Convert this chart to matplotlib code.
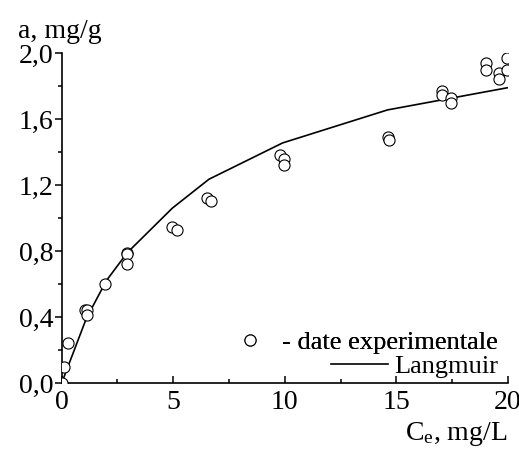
import matplotlib
matplotlib.use('Agg')
import matplotlib.pyplot as plt
from matplotlib.lines import Line2D
from matplotlib.ticker import MultipleLocator, FixedLocator, FixedFormatter

plt.rcParams['font.family'] = ['Liberation Serif', 'DejaVu Serif']
plt.rcParams['mathtext.fontset'] = 'custom'
plt.rcParams['mathtext.rm'] = 'Liberation Serif'
plt.rcParams['mathtext.it'] = 'Liberation Serif'

# experimental adsorption points
ce_exp = [0.0, 0.1, 0.3, 1.05, 1.15, 1.12, 1.95, 2.94, 2.94, 2.94, 4.96, 5.15,
          6.5, 6.67, 9.8, 9.95, 9.95, 14.62, 14.66, 17.05, 17.05, 17.43, 17.43,
          19.0, 19.0, 19.6, 19.6, 19.95, 19.95]
a_exp = [0.0, 0.10, 0.245, 0.44, 0.44, 0.41, 0.60, 0.79, 0.78, 0.72, 0.944, 0.925,
         1.12, 1.105, 1.38, 1.355, 1.32, 1.49, 1.47, 1.77, 1.745, 1.73, 1.70,
         1.94, 1.90, 1.88, 1.84, 1.967, 1.90]

# Langmuir model curve
ce_fit = [0.0, 1.1, 2.0, 2.94, 4.96, 6.6, 9.9, 14.6, 17.2, 20.0]
a_fit = [0.0, 0.39, 0.62, 0.79, 1.06, 1.235, 1.455, 1.655, 1.72, 1.79]

xticks = [0, 5, 10, 15, 20]
yticks = [0.0, 0.4, 0.8, 1.2, 1.6, 2.0]
ylabels = ['0,0', '0,4', '0,8', '1,2', '1,6', '2,0']

FS = 20
LFS = 19
W, H = 519, 451
fig = plt.figure(figsize=(W / 100, H / 100), dpi=100)
ax = fig.add_axes([61.7 / W, 68 / H, (508 - 61.7) / W, 330 / H])

ax.plot(ce_fit, a_fit, color='black', lw=1.2, zorder=2)
ax.plot(ce_exp, a_exp, 'o', ms=8, mfc='white', mec='black', mew=0.8, zorder=3)

ax.set_xlim(0, 20)
ax.set_ylim(0, 2.0)
for s in ['top', 'right']:
    ax.spines[s].set_visible(False)
for s in ['left', 'bottom']:
    ax.spines[s].set_linewidth(1.2)

ax.xaxis.set_major_locator(FixedLocator(xticks))
ax.xaxis.set_minor_locator(MultipleLocator(2.5))
ax.yaxis.set_major_locator(FixedLocator(yticks))
ax.yaxis.set_major_formatter(FixedFormatter(ylabels))
ax.yaxis.set_minor_locator(MultipleLocator(0.2))
ax.tick_params(axis='x', which='both', direction='in', labelsize=FS, pad=5)
ax.tick_params(axis='y', which='both', direction='out', labelsize=FS, pad=1)
ax.tick_params(which='major', length=5, width=1.1)
ax.tick_params(which='minor', length=3, width=1.1)

fig.text(18 / W, 1 - 38 / H, 'a, mg/g', fontsize=FS, ha='left', va='baseline')
fig.text(507 / W, 1 - 440 / H, r'C$_{\mathrm{e}}$, mg/L', fontsize=FS,
         ha='right', va='baseline')

h1 = Line2D([], [], ls='none', marker='o', ms=8, mfc='white', mec='black', mew=0.8)
h2 = Line2D([], [], color='black', lw=1.2)
leg1 = fig.legend([h1], ['- date experimentale'], loc='upper right',
                  bbox_to_anchor=(498 / W, 1 - 331 / H), frameon=False,
                  fontsize=LFS, borderpad=0, borderaxespad=0,
                  handlelength=1.0, handletextpad=0.72)
leg2 = fig.legend([h2], ['Langmuir'], loc='upper right',
                  bbox_to_anchor=(498 / W, 1 - 355 / H), frameon=False,
                  fontsize=LFS, borderpad=0, borderaxespad=0,
                  handlelength=2.15, handletextpad=0.22)
fig.add_artist(leg1)

fig.savefig('out.png', dpi=100)
